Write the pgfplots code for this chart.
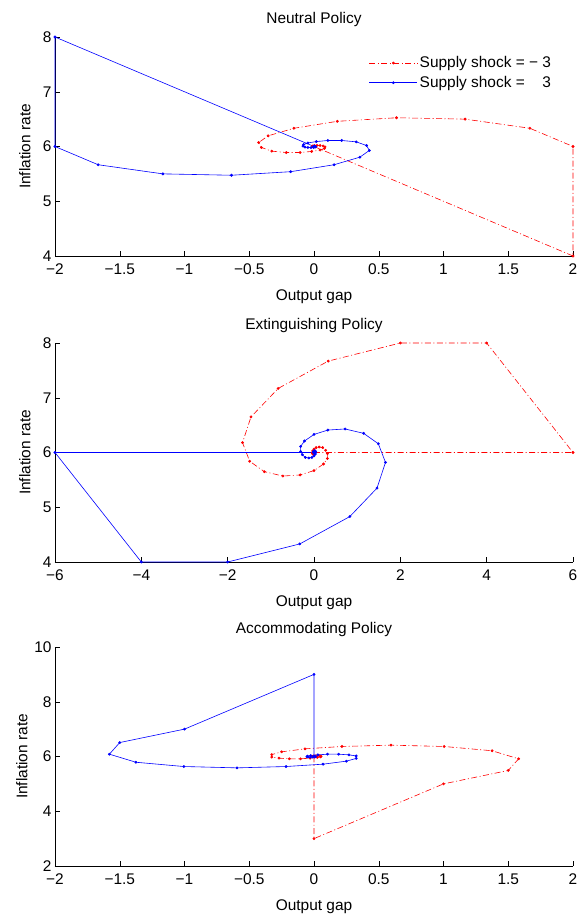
\documentclass[border=0pt]{standalone}
\usepackage{fontspec}
\setmainfont{Liberation Sans}
\usepackage{pgfplots}
\pgfplotsset{compat=1.18}
\usepackage{pgfplotstable}

\pgfplotstableread{
x y
0 6
-2 8
-2 6
-1.667 5.667
-1.167 5.5
-0.637 5.475
-0.18 5.54
0.155 5.667
0.354 5.805
0.427 5.927
0.406 6.018
0.326 6.085
0.214 6.11
0.107 6.11
0.018 6.09
-0.047 6.065
-0.08 6.035
-0.085 6.008
-0.07 5.99
-0.047 5.982
-0.023 5.98
-0.004 5.983
0.008 5.99
0.012 5.995
0.011 6.0
0.008 6.003
0.004 6.004
0.0 6.003
-0.002 6.002
-0.002 6.0
}\neutralblue

\pgfplotstableread{
x y
0 6
2 4
2 6
1.667 6.333
1.167 6.5
0.637 6.525
0.18 6.46
-0.155 6.333
-0.354 6.195
-0.427 6.073
-0.406 5.982
-0.326 5.915
-0.214 5.89
-0.107 5.89
-0.018 5.91
0.047 5.935
0.08 5.965
0.085 5.992
0.07 6.01
0.047 6.018
0.023 6.02
0.004 6.017
-0.008 6.01
-0.012 6.005
-0.011 6.0
-0.008 5.997
-0.004 5.996
0 5.997
0.002 5.998
0.002 6.0
}\neutralred

\pgfplotstableread{
x y
0 6
-6 6
-4 4
-2 4
-0.33 4.33
0.83 4.83
1.46 5.35
1.656 5.82
1.49 6.16
1.15 6.35
0.72 6.43
0.32 6.41
0 6.33
-0.22 6.21
-0.31 6.11
-0.31 6.02
-0.27 5.96
-0.2 5.91
-0.12 5.9
-0.05 5.91
0.0 5.94
0.03 5.97
0.04 6.0
0.035 6.02
0.02 6.03
0.005 6.03
-0.008 6.02
-0.012 6.01
-0.01 6.0
-0.006 5.995
0 5.995
}\extblue

\pgfplotstableread{
x y
0 6
6 6
4 8
2 8
0.33 7.67
-0.83 7.17
-1.46 6.65
-1.656 6.18
-1.49 5.84
-1.15 5.65
-0.72 5.57
-0.32 5.59
0 5.67
0.22 5.79
0.31 5.89
0.31 5.98
0.27 6.04
0.2 6.09
0.12 6.1
0.05 6.09
0.0 6.06
-0.03 6.03
-0.04 6.0
-0.035 5.98
-0.02 5.97
-0.005 5.97
0.008 5.98
0.012 5.99
0.01 6.0
0.006 6.005
0 6.005
}\extred

\pgfplotstableread{
x y
0 6
0 9
-1 7
-1.5 6.51
-1.58 6.085
-1.375 5.79
-1.005 5.634
-0.594 5.585
-0.216 5.634
0.07 5.72
0.25 5.83
0.326 5.93
0.326 6.02
0.27 6.06
0.19 6.085
0.104 6.085
0.03 6.06
-0.025 6.035
-0.05 6.01
-0.055 5.99
-0.045 5.98
-0.028 5.975
-0.01 5.978
0.004 5.985
0.01 5.993
0.011 6.0
0.008 6.004
0.004 6.005
0 6.004
-0.002 6.002
-0.002 6.0
}\accblue

\pgfplotstableread{
x y
0 6
0 3
1 5
1.5 5.49
1.58 5.915
1.375 6.21
1.005 6.366
0.594 6.415
0.216 6.366
-0.07 6.28
-0.25 6.17
-0.326 6.07
-0.326 5.98
-0.27 5.94
-0.19 5.915
-0.104 5.915
-0.03 5.94
0.025 5.965
0.05 5.99
0.055 6.01
0.045 6.02
0.028 6.025
0.01 6.022
-0.004 6.015
-0.01 6.007
-0.011 6.0
-0.008 5.996
-0.004 5.995
0 5.996
0.002 5.998
0.002 6.0
}\accred

\newcommand{\ff}{\fontsize{15.5}{18}\selectfont}

\pgfplotsset{
  panel/.style={
    scale only axis, width=518bp, height=219bp,
    axis x line*=bottom, axis y line*=left,
    axis line style={black, line width=0.5pt},
    tick align=inside, major tick length=5bp,
    tick style={black, line width=0.5pt},
    tick label style={font=\ff},
    label style={font=\ff},
    title style={font=\ff, yshift=1bp},
    xlabel={Output gap}, ylabel={Inflation rate},
    xticklabel style={yshift=-4bp},
    xlabel style={yshift=-8bp},
    ylabel style={at={(axis description cs:-0.058,0.5)}, anchor=center, rotate=0},
    anchor=north west,
    clip=false,
  },
  redline/.style={color=red, line width=0.6pt, dash pattern=on 6pt off 2.5pt on 1pt off 2.5pt,
    mark=*, mark size=1.1pt, mark options={solid}},
  blueline/.style={color=blue, line width=0.6pt, solid, mark=*, mark size=1.1pt},
}

\begin{document}
\begin{tikzpicture}
\begin{axis}[panel, at={(0bp,0bp)},
  title={Neutral Policy},
  xmin=-2, xmax=2, ymin=4, ymax=8,
  xtick={-2,-1.5,-1,-0.5,0,0.5,1,1.5,2},
  xticklabels={−2,−1.5,−1,−0.5,0,0.5,1,1.5,2},
  ytick={4,5,6,7,8}, yticklabels={4,5,6,7,8},
  legend style={at={(0.606,0.92)}, anchor=north west, draw=none, fill=none,
    row sep=3bp, font=\ff, inner sep=0pt},
  legend cell align=left,
  legend image code/.code={\draw[mark repeat=2,mark phase=2,#1] plot coordinates {(0bp,0bp) (24bp,0bp) (48bp,0bp)};},
]
\addplot[redline] table {\neutralred};
\addlegendentry{Supply shock = − 3}
\addplot[blueline] table {\neutralblue};
\addlegendentry{Supply shock = \phantom{−} 3}
\end{axis}

\begin{axis}[panel, at={(0bp,-306bp)},
  title={Extinguishing Policy},
  xmin=-6, xmax=6, ymin=4, ymax=8,
  xtick={-6,-4,-2,0,2,4,6},
  xticklabels={−6,−4,−2,0,2,4,6},
  ytick={4,5,6,7,8}, yticklabels={4,5,6,7,8},
]
\addplot[redline] table {\extred};
\addplot[blueline] table {\extblue};
\end{axis}

\begin{axis}[panel, at={(0bp,-610bp)},
  title={Accommodating Policy},
  xmin=-2, xmax=2, ymin=2, ymax=10,
  xtick={-2,-1.5,-1,-0.5,0,0.5,1,1.5,2},
  xticklabels={−2,−1.5,−1,−0.5,0,0.5,1,1.5,2},
  ytick={2,4,6,8,10}, yticklabels={2,4,6,8,10},
  ylabel style={at={(axis description cs:-0.064,0.5)}},
]
\addplot[redline] table {\accred};
\addplot[blueline] table {\accblue};
\end{axis}
\pgfresetboundingbox
\path[use as bounding box] (-55bp,37bp) rectangle (529bp,-884bp);
\end{tikzpicture}
\end{document}
